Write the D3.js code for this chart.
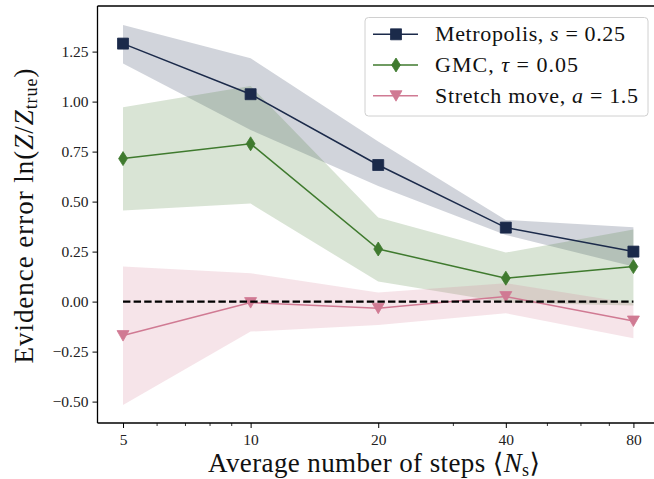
<!DOCTYPE html>
<html>
<head>
<meta charset="utf-8">
<script src="https://cdn.jsdelivr.net/npm/d3@7"></script>
<style>
  html, body { margin: 0; padding: 0; background: #fff; }
  svg { display: block; font-family: "Liberation Serif", "DejaVu Serif", serif; }
</style>
</head>
<body>
<svg id="chart" width="654" height="479"></svg>
<script>
// ---- data ----
const steps = [5, 10, 20, 40, 80];
const metroMean = [1.29, 1.037, 0.683, 0.37, 0.25];
const metroLo   = [1.19, 0.858, 0.578, 0.333, 0.175];
const metroHi   = [1.383, 1.217, 0.80, 0.408, 0.372];
const gmcMean = [0.715, 0.789, 0.263, 0.117, 0.175];
const gmcLo   = [0.455, 0.49, 0.10, -0.005, -0.02];
const gmcHi   = [0.972, 1.078, 0.42, 0.245, 0.36];
const stretchMean = [-0.17, -0.005, -0.033, 0.025, -0.097];
const stretchLo   = [-0.517, -0.15, -0.117, -0.058, -0.183];
const stretchHi   = [0.175, 0.142, 0.045, 0.092, -0.01];
const xMajorTicks = [5, 10, 20, 40, 80];
const xMinorTicks = [6, 7, 8, 9, 30, 50, 60, 70];
const yTicks = [-0.5, -0.25, 0, 0.25, 0.5, 0.75, 1.0, 1.25];

const seriesDefs = [
  { name: "Metropolis", mean: metroMean, lo: metroLo, hi: metroHi, color: "#1b2a4a", marker: "square", label: ["Metropolis, ", "s", " = 0.25"], len: 190 },
  { name: "GMC", mean: gmcMean, lo: gmcLo, hi: gmcHi, color: "#3f7a2e", marker: "thin_diamond", label: ["GMC, ", "τ", " = 0.05"], len: 143 },
  { name: "Stretch", mean: stretchMean, lo: stretchLo, hi: stretchHi, color: "#d07a93", marker: "tri_down", label: ["Stretch move, ", "a", " = 1.5"], len: 203 }
];

// ---- layout ----
const svg = d3.select("#chart");
const pLeft = 97.5, pTop = 6, pBottom = 423;
const perDoubling = 127.6;
const x = d3.scaleLog().domain([5 * Math.pow(2, -0.2), 80 * Math.pow(2, 0.2)])
  .range([pLeft, pLeft + perDoubling * 4.4]);
const y = d3.scaleLinear().domain([-0.607, 1.478]).range([pBottom, pTop]);

const plot = svg.append("g");

// bands
const area = d3.area().x((d) => x(d.x)).y0((d) => y(d.lo)).y1((d) => y(d.hi));
seriesDefs.forEach(s => {
  const pts = steps.map((v, i) => ({ x: v, lo: s.lo[i], hi: s.hi[i] }));
  plot.append("path").attr("d", area(pts)).attr("fill", s.color).attr("fill-opacity", 0.2).attr("stroke", "none");
});

// markers
function markerPath(type) {
  if (type === "square") return "M-5.5,-5.5H5.5V5.5H-5.5Z";
  if (type === "thin_diamond") return "M0,-7L4.4,0L0,7L-4.4,0Z";
  if (type === "tri_down") return "M-6,-5H6L0,5.5Z";
}

const line = d3.line().x((d) => x(d.x)).y((d) => y(d.y));
seriesDefs.forEach(s => {
  const pts = steps.map((v, i) => ({ x: v, y: s.mean[i] }));
  plot.append("path").attr("d", line(pts)).attr("fill", "none").attr("stroke", s.color).attr("stroke-width", 1.5);
  plot.selectAll(null).data(pts).enter().append("path")
    .attr("transform", d => `translate(${x(d.x)},${y(d.y)})`)
    .attr("d", markerPath(s.marker)).attr("fill", s.color).attr("stroke", s.color).attr("stroke-width", 0.8);
});

// zero dashed line
plot.append("line")
  .attr("x1", x(steps[0])).attr("x2", x(steps[steps.length - 1]))
  .attr("y1", y(0)).attr("y2", y(0))
  .attr("stroke", "#000").attr("stroke-width", 2.2).attr("stroke-dasharray", "7.4,3.2");

// axes
const yAxis = d3.axisLeft(y).tickValues(yTicks).tickSize(5).tickPadding(4)
  .tickFormat(d => d3.format(".2f")(d).replace("-", "−"));
const gy = svg.append("g").attr("transform", `translate(${pLeft},0)`).call(yAxis);
gy.select(".domain").remove();
gy.selectAll("text").attr("font-size", 15.5).attr("fill", "#222").attr("font-family", "Liberation Serif");
gy.selectAll("line").attr("stroke", "#000").attr("stroke-width", 1);

const xAxis = d3.axisBottom(x).tickValues(xMajorTicks).tickSize(5).tickPadding(6)
  .tickFormat(d3.format("d"));
const gx = svg.append("g").attr("transform", `translate(0,${pBottom})`).call(xAxis);
gx.select(".domain").remove();
gx.selectAll("text").attr("font-size", 15.5).attr("fill", "#222").attr("font-family", "Liberation Serif");
gx.selectAll("line").attr("stroke", "#000").attr("stroke-width", 1);
const xMinor = d3.axisBottom(x).tickValues(xMinorTicks).tickSize(3).tickFormat("");
const gxm = svg.append("g").attr("transform", `translate(0,${pBottom})`).call(xMinor);
gxm.select(".domain").remove();
gxm.selectAll("line").attr("stroke", "#000").attr("stroke-width", 0.8);

// spines
svg.append("line").attr("x1", pLeft).attr("x2", pLeft).attr("y1", pTop).attr("y2", pBottom).attr("stroke", "#000").attr("stroke-width", 1.3);
svg.append("line").attr("x1", pLeft).attr("x2", 654).attr("y1", pBottom).attr("y2", pBottom).attr("stroke", "#000").attr("stroke-width", 1.3);
svg.append("line").attr("x1", pLeft).attr("x2", 654).attr("y1", pTop).attr("y2", pTop).attr("stroke", "#000").attr("stroke-width", 1.3);

// axis labels
const xl = svg.append("text").attr("x", 374).attr("y", 472).attr("text-anchor", "middle").attr("font-size", 27).attr("fill", "#111")
  .attr("textLength", 332).attr("lengthAdjust", "spacing");
xl.append("tspan").text("Average number of steps ⟨");
xl.append("tspan").attr("font-style", "italic").text("N");
xl.append("tspan").attr("font-size", 18).attr("dy", 4).text("s");
xl.append("tspan").attr("dy", -4).text("⟩");

const yl = svg.append("text").attr("transform", "translate(33,216) rotate(-90)").attr("text-anchor", "middle").attr("font-size", 27).attr("fill", "#111")
  .attr("textLength", 295).attr("lengthAdjust", "spacing");
yl.append("tspan").text("Evidence error ln(");
yl.append("tspan").attr("font-style", "italic").text("Z");
yl.append("tspan").text("/");
yl.append("tspan").attr("font-style", "italic").text("Z");
yl.append("tspan").attr("font-size", 18).attr("dy", 4).text("true");
yl.append("tspan").attr("dy", -4).text(")");

// legend
const lg = svg.append("g");
lg.append("rect").attr("x", 365).attr("y", 17.5).attr("width", 283).attr("height", 98.5).attr("rx", 3.5)
  .attr("fill", "#fff").attr("fill-opacity", 0.8).attr("stroke", "#d0d0d0").attr("stroke-width", 1);
const rowY = [34.3, 65, 95.7];
seriesDefs.forEach((s, i) => {
  const ry = rowY[i];
  lg.append("line").attr("x1", 373).attr("x2", 418).attr("y1", ry).attr("y2", ry).attr("stroke", s.color).attr("stroke-width", 1.5);
  lg.append("path").attr("transform", `translate(396,${ry})`).attr("d", markerPath(s.marker)).attr("fill", s.color).attr("stroke", s.color).attr("stroke-width", 0.8);
  const t = lg.append("text").attr("x", 435).attr("y", ry + 7).attr("font-size", 22).attr("fill", "#111")
    .attr("textLength", s.len).attr("lengthAdjust", "spacing");
  t.append("tspan").text(s.label[0]);
  t.append("tspan").attr("font-style", "italic").text(s.label[1]);
  t.append("tspan").text(s.label[2]);
});
</script>
</body>
</html>
